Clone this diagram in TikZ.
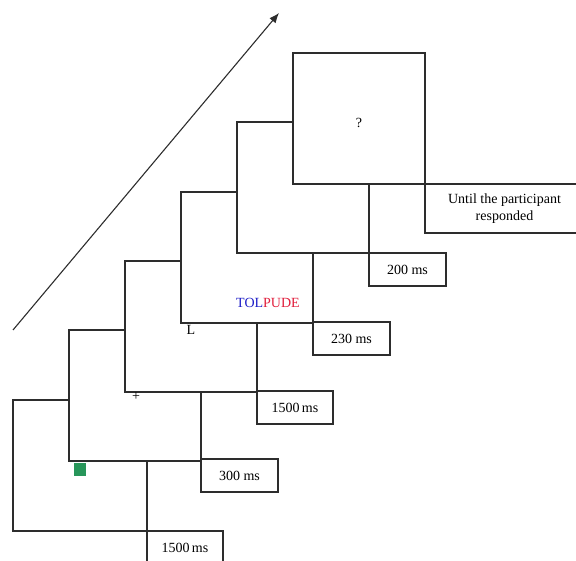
\documentclass[tikz,border=0pt]{standalone}
\usepackage{fontspec}
\setmainfont{Liberation Serif}
\usetikzlibrary{arrows.meta}
\definecolor{stimgreen}{RGB}{40,150,90}
\definecolor{tolblue}{RGB}{30,30,200}
\definecolor{pudered}{RGB}{225,30,60}
\definecolor{linegray}{RGB}{45,45,45}
\begin{document}
\begin{tikzpicture}[x=1pt,y=-1pt,
  frame/.style={draw=linegray, line width=1.2pt, fill=white, minimum width=132pt, minimum height=131pt, anchor=north west, inner sep=0pt, outer sep=0pt},
  lab/.style={draw=linegray, line width=1.2pt, fill=white, minimum width=76pt, minimum height=33pt, anchor=north west, inner sep=0pt, outer sep=0pt, font=\fontsize{14}{17}\selectfont, align=center},
  txt/.style={font=\fontsize{14}{17}\selectfont, inner sep=0pt}]
\clip (0,0) rectangle (576,561);
\useasboundingbox (0,0) rectangle (576,561);
% arrow
\coordinate (a0) at (13,330);
\coordinate (a1) at (279,13);
\draw[linegray, line width=1.1pt, -{Latex[length=10pt,width=8pt]}] (a0) -- (a1);
% frames
\node[frame, minimum width=134pt] (f1) at (13,400) {};
\node[frame] (f2) at (69,330) {};
\node[frame] (f3) at (125,261) {};
\node[frame] (f4) at (181,192) {};
\node[frame] (f5) at (237,122) {};
\node[frame] (f6) at (293,53) {};
% duration labels
\node[lab] (l1) at (f1.south east) {1500\,ms};
\node[lab, minimum width=77pt] (l2) at ([yshift=2pt]f2.south east) {300 ms};
\node[lab] (l3) at ([yshift=1pt]f3.south east) {1500\,ms};
\node[lab, minimum width=77pt] (l4) at ([yshift=1pt]f4.south east) {230 ms};
\node[lab, minimum width=77pt] (l5) at (f5.south east) {200 ms};
\node[lab, minimum width=159pt, minimum height=49pt] (l6) at (f6.south east) {Until the participant\\responded};
% stimuli
\node[fill=stimgreen, minimum width=12pt, minimum height=13pt, inner sep=0pt] (g) at (80,469) {};
\node[txt] (plus) at (136,397) {+};
\node[txt] (L) at (191,330) {L};
\node[txt] (word) at (268,303) {\textcolor{tolblue}{TOL}\textcolor{pudered}{PUDE}};
\node[txt] (q) at (359,123) {?};
\end{tikzpicture}
\end{document}
